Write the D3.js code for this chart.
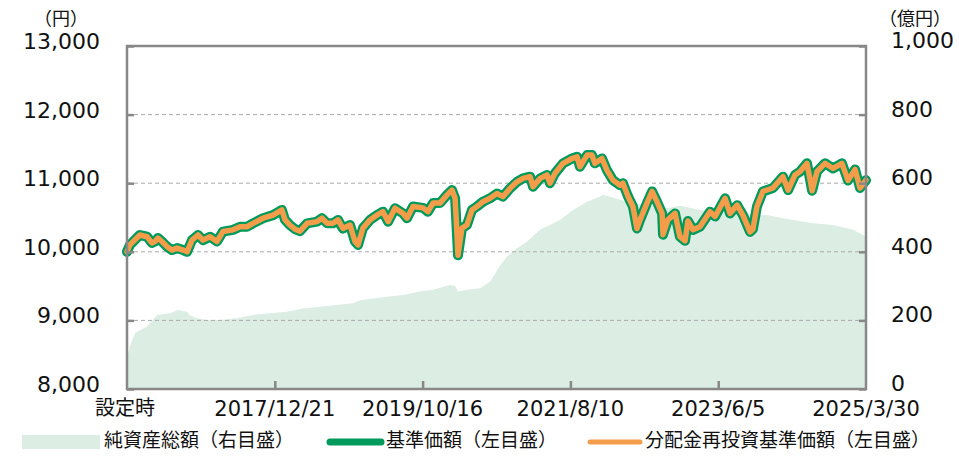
<!DOCTYPE html>
<html>
<head>
<meta charset="utf-8">
<script src="https://cdn.jsdelivr.net/npm/d3@7"></script>
<style>
  body { margin: 0; background: #fff; }
  .num { font-family: "DejaVu Sans", Verdana, sans-serif; fill: #111; }
  .jp { font-family: "Noto Sans CJK JP", sans-serif; fill: #111; }
</style>
</head>
<body>
<svg id="chart" width="959" height="456"></svg>
<script>
// 基準価額 (円)
const navDates = ["2016-02-26","2016-03-10","2016-04-11","2016-04-24","2016-05-26","2016-06-17","2016-07-01","2016-07-14","2016-08-01","2016-08-24","2016-09-15","2016-10-08","2016-11-04","2016-11-22","2016-12-14","2017-01-10","2017-02-01","2017-03-05","2017-04-05","2017-05-02","2017-06-16","2017-07-18","2017-08-18","2017-09-14","2017-10-29","2017-12-13","2018-01-22","2018-02-05","2018-02-27","2018-03-22","2018-04-13","2018-05-15","2018-06-29","2018-07-21","2018-08-13","2018-09-08","2018-10-01","2018-10-23","2018-11-24","2018-12-16","2018-12-30","2019-01-21","2019-02-22","2019-03-25","2019-04-21","2019-05-14","2019-06-14","2019-07-20","2019-08-07","2019-09-03","2019-10-18","2019-11-09","2019-12-02","2020-01-02","2020-02-03","2020-02-25","2020-03-10","2020-03-19","2020-03-23","2020-04-10","2020-05-02","2020-05-25","2020-06-16","2020-07-13","2020-08-14","2020-09-14","2020-10-11","2020-11-12","2020-12-13","2021-01-09","2021-02-10","2021-02-23","2021-03-27","2021-04-27","2021-05-10","2021-06-02","2021-07-08","2021-08-17","2021-09-09","2021-09-22","2021-10-24","2021-11-15","2021-11-28","2021-12-30","2022-01-21","2022-02-17","2022-03-21","2022-04-03","2022-04-26","2022-05-18","2022-06-05","2022-06-19","2022-07-20","2022-08-12","2022-09-03","2022-09-26","2022-09-30","2022-10-22","2022-11-23","2022-12-15","2023-01-07","2023-01-20","2023-02-12","2023-03-15","2023-04-29","2023-05-22","2023-07-06","2023-07-28","2023-08-29","2023-09-24","2023-10-26","2023-11-08","2023-11-26","2023-12-23","2024-02-06","2024-03-22","2024-04-14","2024-05-15","2024-06-07","2024-07-08","2024-07-31","2024-08-22","2024-09-27","2024-11-02","2024-12-12","2025-01-08","2025-02-09","2025-03-03","2025-03-30"];
const nav = [10000,10100,10205,10245,10220,10130,10150,10200,10150,10075,10025,10055,10025,10000,10170,10245,10170,10220,10150,10295,10320,10365,10365,10415,10490,10535,10610,10465,10390,10330,10300,10415,10440,10490,10415,10415,10465,10340,10390,10150,10100,10345,10465,10535,10585,10440,10635,10560,10490,10660,10640,10585,10710,10710,10830,10900,10780,10220,9950,10345,10390,10610,10660,10730,10780,10850,10805,10925,11020,11070,11095,10950,11070,11120,11000,11145,11290,11360,11385,11240,11410,11410,11290,11360,11190,11045,10970,11000,10805,10660,10340,10465,10710,10880,10730,10560,10250,10465,10560,10220,10160,10450,10320,10365,10585,10515,10780,10560,10680,10535,10290,10330,10660,10880,10930,11095,10900,11120,11170,11290,10890,11170,11290,11215,11290,11040,11200,10930,11045];
// 分配金再投資基準価額 (円) - 分配なしのため基準価額と同じ
const navReinv = [10000,10100,10205,10245,10220,10130,10150,10200,10150,10075,10025,10055,10025,10000,10170,10245,10170,10220,10150,10295,10320,10365,10365,10415,10490,10535,10610,10465,10390,10330,10300,10415,10440,10490,10415,10415,10465,10340,10390,10150,10100,10345,10465,10535,10585,10440,10635,10560,10490,10660,10640,10585,10710,10710,10830,10900,10780,10220,9950,10345,10390,10610,10660,10730,10780,10850,10805,10925,11020,11070,11095,10950,11070,11120,11000,11145,11290,11360,11385,11240,11410,11410,11290,11360,11190,11045,10970,11000,10805,10660,10340,10465,10710,10880,10730,10560,10250,10465,10560,10220,10160,10450,10320,10365,10585,10515,10780,10560,10680,10535,10290,10330,10660,10880,10930,11095,10900,11120,11170,11290,10890,11170,11290,11215,11290,11040,11200,10930,11045];

// 純資産総額 (億円)
const assetDates = ["2016-02-26","2016-03-01","2016-03-10","2016-04-02","2016-05-26","2016-07-10","2016-09-06","2016-10-12","2016-11-22","2016-12-05","2017-01-05","2017-02-19","2017-04-19","2017-07-04","2017-09-14","2017-11-29","2018-02-14","2018-04-27","2018-07-12","2018-12-07","2019-01-08","2019-05-09","2019-07-20","2019-10-04","2019-12-02","2020-02-16","2020-03-10","2020-03-23","2020-05-02","2020-06-30","2020-08-14","2020-09-28","2020-10-29","2020-12-13","2021-01-27","2021-03-26","2021-05-10","2021-06-24","2021-08-22","2021-10-24","2021-12-21","2022-01-03","2022-02-17","2022-05-18","2022-08-03","2022-10-18","2022-12-15","2023-03-15","2023-08-11","2024-01-10","2024-03-22","2024-08-04","2024-11-02","2025-01-31","2025-03-17","2025-03-30"];
const assets = [30,100,125,163,182,216,221,230,225,215,206,201,201,206,216,221,225,235,240,250,259,269,274,284,289,303,300,284,289,294,313,360,386,410,429,464,478,493,522,546,561,566,558,541,535,527,534,522,512,507,498,483,478,464,449,445];

// axis ticks
const leftTicks = [8000, 9000, 10000, 11000, 12000, 13000];
const rightTicks = [0, 200, 400, 600, 800, 1000];
const xTickDates = ["2016-02-26","2017-12-21","2019-10-16","2021-08-10","2023-06-05","2025-03-30"];
const xTickLabels = ["設定時","2017/12/21","2019/10/16","2021/8/10","2023/6/5","2025/3/30"];

(function() {
    var left = 127, right = 866, top = 46, bottom = 389;
    var parse = d3.timeParse("%Y-%m-%d");
    var fmt = d3.format(",");

    const svg = d3.select("#chart");

    var x = d3.scaleTime()
        .domain([parse(xTickDates[0]), parse(xTickDates[xTickDates.length - 1])])
        .range([left, right]);
    var yL = d3.scaleLinear().domain([8000, 13000]).range([bottom, top]);
    var yR = d3.scaleLinear().domain([0, 1000]).range([bottom, top]);

    //net assets area (right axis)
    var assetData = assetDates.map((d, i) => ({ date: parse(d), v: assets[i] }));
    svg.append("path")
        .datum(assetData)
        .attr("fill", "#dcede3")
        .attr("d", d3.area().x(d => x(d.date)).y0(bottom).y1(d => yR(d.v)));

    //dashed gridlines
    svg.append("g")
        .selectAll("line")
        .data(leftTicks.slice(1, -1))
        .enter().append("line")
        .attr("x1", left).attr("x2", right)
        .attr("y1", d => yL(d)).attr("y2", d => yL(d))
        .attr("stroke", "#aaa")
        .attr("stroke-width", 1)
        .attr("stroke-dasharray", "4,3");

    //nav lines: green first, orange on top
    var navData = navDates.map((d, i) => ({ date: parse(d), v: nav[i] }));
    var reinvData = navDates.map((d, i) => ({ date: parse(d), v: navReinv[i] }));
    var line = d3.line().x(d => x(d.date)).y(d => yL(d.v));

    svg.append("path")
        .datum(navData)
        .attr("fill", "none")
        .attr("stroke", "#009a5c")
        .attr("stroke-width", 10)
        .attr("stroke-linejoin", "round")
        .attr("stroke-linecap", "round")
        .attr("d", line);

    svg.append("path")
        .datum(reinvData)
        .attr("fill", "none")
        .attr("stroke", "#f39c4a")
        .attr("stroke-width", 5.5)
        .attr("stroke-linejoin", "round")
        .attr("stroke-linecap", "round")
        .attr("d", line);

    //frame
    var axisColor = "#888";
    svg.append("rect")
        .attr("x", left).attr("y", top)
        .attr("width", right - left).attr("height", bottom - top)
        .attr("fill", "none")
        .attr("stroke", axisColor)
        .attr("stroke-width", 2.5);

    //left axis (ticks point inward)
    svg.append("g")
        .attr("transform", `translate(${left},0)`)
        .call(d3.axisLeft(yL).tickValues(leftTicks).tickSize(-7).tickFormat(""))
        .call(g => g.select(".domain").remove())
        .call(g => g.selectAll("line").attr("stroke", axisColor).attr("stroke-width", 2.5));

    svg.append("g").selectAll("text")
        .data(leftTicks)
        .enter().append("text")
        .attr("class", "num")
        .attr("x", 100)
        .attr("y", d => yL(d) - 3)
        .attr("text-anchor", "end")
        .attr("dominant-baseline", "middle")
        .style("font-size", "22px")
        .text(d => fmt(d));

    //right axis
    svg.append("g")
        .attr("transform", `translate(${right},0)`)
        .call(d3.axisRight(yR).tickValues(rightTicks).tickSize(-7).tickFormat(""))
        .call(g => g.select(".domain").remove())
        .call(g => g.selectAll("line").attr("stroke", axisColor).attr("stroke-width", 2.5));

    svg.append("g").selectAll("text")
        .data(rightTicks)
        .enter().append("text")
        .attr("class", "num")
        .attr("x", 891)
        .attr("y", d => yR(d) - 4)
        .attr("text-anchor", "start")
        .attr("dominant-baseline", "middle")
        .style("font-size", "22px")
        .text(d => fmt(d));

    //bottom axis
    var xTicks = xTickDates.map(parse);
    svg.append("g")
        .attr("transform", `translate(0,${bottom})`)
        .call(d3.axisBottom(x).tickValues(xTicks.slice(1, -1)).tickSize(-8).tickFormat(""))
        .call(g => g.select(".domain").remove())
        .call(g => g.selectAll("line").attr("stroke", axisColor).attr("stroke-width", 2.5));

    svg.append("g").selectAll("text")
        .data(xTicks)
        .enter().append("text")
        .attr("class", (d, i) => i === 0 ? "jp" : "num")
        .attr("x", (d, i) => x(d) - (i === 0 ? 2 : 0))
        .attr("y", 410)
        .attr("text-anchor", "middle")
        .attr("dominant-baseline", "middle")
        .style("font-size", (d, i) => i === 0 ? "20px" : "21px")
        .text((d, i) => xTickLabels[i]);

    //unit labels
    svg.append("text").attr("class", "jp")
        .attr("x", 61).attr("y", 20)
        .attr("text-anchor", "middle").attr("dominant-baseline", "middle")
        .style("font-size", "18px")
        .text("（円）");
    svg.append("text").attr("class", "jp")
        .attr("x", 915).attr("y", 20)
        .attr("text-anchor", "middle").attr("dominant-baseline", "middle")
        .style("font-size", "18px")
        .text("（億円）");

    //legend
    var ly = 442;
    const legend = svg.append("g");
    legend.append("rect")
        .attr("x", 22).attr("y", ly - 7)
        .attr("width", 78).attr("height", 14)
        .attr("fill", "#dcede3");
    legend.append("text").attr("class", "jp")
        .attr("x", 104).attr("y", ly)
        .attr("dominant-baseline", "middle")
        .style("font-size", "19px")
        .text("純資産総額（右目盛）");

    legend.append("line")
        .attr("x1", 330).attr("x2", 381)
        .attr("y1", ly).attr("y2", ly)
        .attr("stroke", "#009a5c").attr("stroke-width", 7)
        .attr("stroke-linecap", "round");
    legend.append("text").attr("class", "jp")
        .attr("x", 386).attr("y", ly)
        .attr("dominant-baseline", "middle")
        .style("font-size", "19px")
        .text("基準価額（左目盛）");

    legend.append("line")
        .attr("x1", 590).attr("x2", 640)
        .attr("y1", ly).attr("y2", ly)
        .attr("stroke", "#f39c4a").attr("stroke-width", 5)
        .attr("stroke-linecap", "round");
    legend.append("text").attr("class", "jp")
        .attr("x", 645).attr("y", ly)
        .attr("dominant-baseline", "middle")
        .style("font-size", "19px")
        .text("分配金再投資基準価額（左目盛）");
})();
</script>
</body>
</html>
